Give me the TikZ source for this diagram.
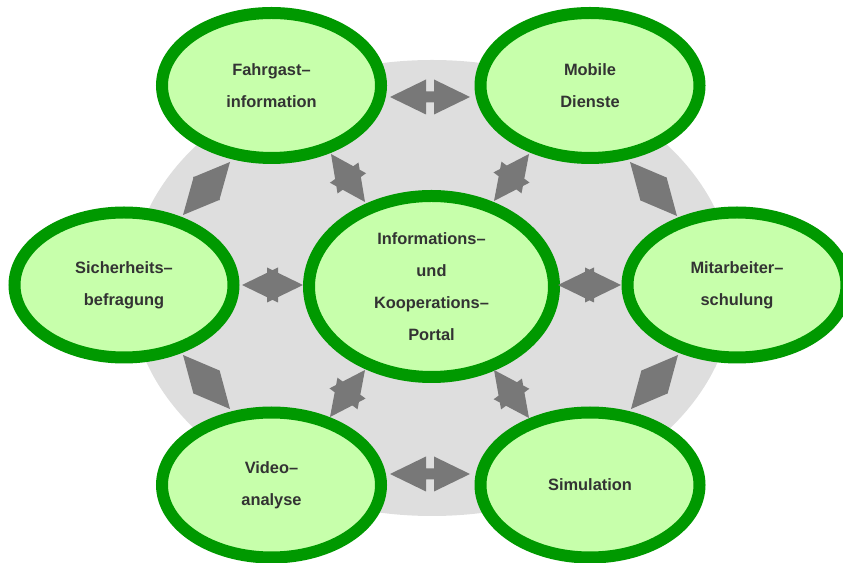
\documentclass[tikz,border=0pt]{standalone}
\usepackage{fontspec}
\setmainfont{Liberation Sans}
\usetikzlibrary{calc,shapes.geometric}

\definecolor{leaf}{rgb}{0.78, 1.0, 0.67}
\definecolor{forest}{rgb}{0.0, 0.6, 0.0}
\definecolor{ash}{rgb}{0.87, 0.87, 0.87}
\definecolor{slate}{rgb}{0.47, 0.47, 0.47}
\definecolor{ink}{rgb}{0.2, 0.2, 0.2}

\tikzset{
	bubble/.style={ellipse,draw=forest,fill=leaf,line width=0.36cm,
		minimum width=6.57cm,minimum height=4.35cm,inner sep=0pt,
		align=center,text=ink,font=\bfseries\fontsize{14}{27.4}\selectfont},
	hub/.style={bubble,minimum width=7.35cm,minimum height=5.43cm}
}

% block arrow with a head at both ends, from #1 to #2
\newcommand{\dblarrow}[2]{%
	\fill[slate]
	(#1) -- ($(#1)!1.08cm!(#2)!0.525cm!90:(#2)$) -- ($(#1)!1.08cm!(#2)!0.525cm!-90:(#2)$) -- cycle
	(#2) -- ($(#2)!1.08cm!(#1)!0.525cm!90:(#1)$) -- ($(#2)!1.08cm!(#1)!0.525cm!-90:(#1)$) -- cycle
	($(#1)!0.5cm!(#2)!0.165cm!90:(#2)$) -- ($(#2)!0.5cm!(#1)!0.165cm!-90:(#1)$)
	-- ($(#2)!0.5cm!(#1)!0.165cm!90:(#1)$) -- ($(#1)!0.5cm!(#2)!0.165cm!-90:(#2)$) -- cycle;}

\begin{document}
\begin{tikzpicture}
		\useasboundingbox (0,0) rectangle (25.29,16.89);
		
		% grey disc behind everything
		\fill[ash] (12.96,8.25) ellipse (9.06 and 6.84);
		
		\node[bubble] (fahrgast) at (8.145,14.325) {Fahrgast--\\information};
		\node[bubble] (mobile) at (17.70,14.325) {Mobile\\Dienste};
		\node[bubble] (sicher) at (3.72,8.34) {Sicherheits--\\befragung};
		\node[hub] (portal) at (12.945,8.295) {Informations--\\und\\Kooperations--\\Portal};
		\node[bubble] (mitarb) at (22.11,8.34) {Mitarbeiter--\\schulung};
		\node[bubble] (video) at (8.145,2.34) {Video--\\analyse};
		\node[bubble] (simul) at (17.70,2.34) {Simulation};
		
		% arrow tips
		\coordinate (fm1) at (11.70,13.98);
		\coordinate (fm2) at (14.10,13.98);
		\coordinate (vs1) at (11.70,2.67);
		\coordinate (vs2) at (14.10,2.67);
		\coordinate (sp1) at (7.26,8.34);
		\coordinate (sp2) at (9.09,8.34);
		\coordinate (pm1) at (16.74,8.34);
		\coordinate (pm2) at (18.63,8.34);
		\coordinate (fs1) at (6.90,12.03);
		\coordinate (fs2) at (5.49,10.44);
		\coordinate (fp1) at (9.93,12.27);
		\coordinate (fp2) at (10.95,10.83);
		\coordinate (mp1) at (15.87,12.27);
		\coordinate (mp2) at (14.82,10.86);
		\coordinate (mm1) at (18.90,12.03);
		\coordinate (mm2) at (20.31,10.41);
		\coordinate (sv1) at (5.49,6.24);
		\coordinate (sv2) at (6.90,4.62);
		\coordinate (pv1) at (10.95,5.79);
		\coordinate (pv2) at (9.90,4.38);
		\coordinate (ps1) at (14.82,5.79);
		\coordinate (ps2) at (15.87,4.35);
		\coordinate (ms1) at (20.34,6.24);
		\coordinate (ms2) at (18.93,4.62);
		
		\dblarrow{fm1}{fm2}
		\dblarrow{vs1}{vs2}
		\dblarrow{sp1}{sp2}
		\dblarrow{pm1}{pm2}
		\dblarrow{fs1}{fs2}
		\dblarrow{fp1}{fp2}
		\dblarrow{mp1}{mp2}
		\dblarrow{mm1}{mm2}
		\dblarrow{sv1}{sv2}
		\dblarrow{pv1}{pv2}
		\dblarrow{ps1}{ps2}
		\dblarrow{ms1}{ms2}
	
	\end{tikzpicture}
\end{document}
